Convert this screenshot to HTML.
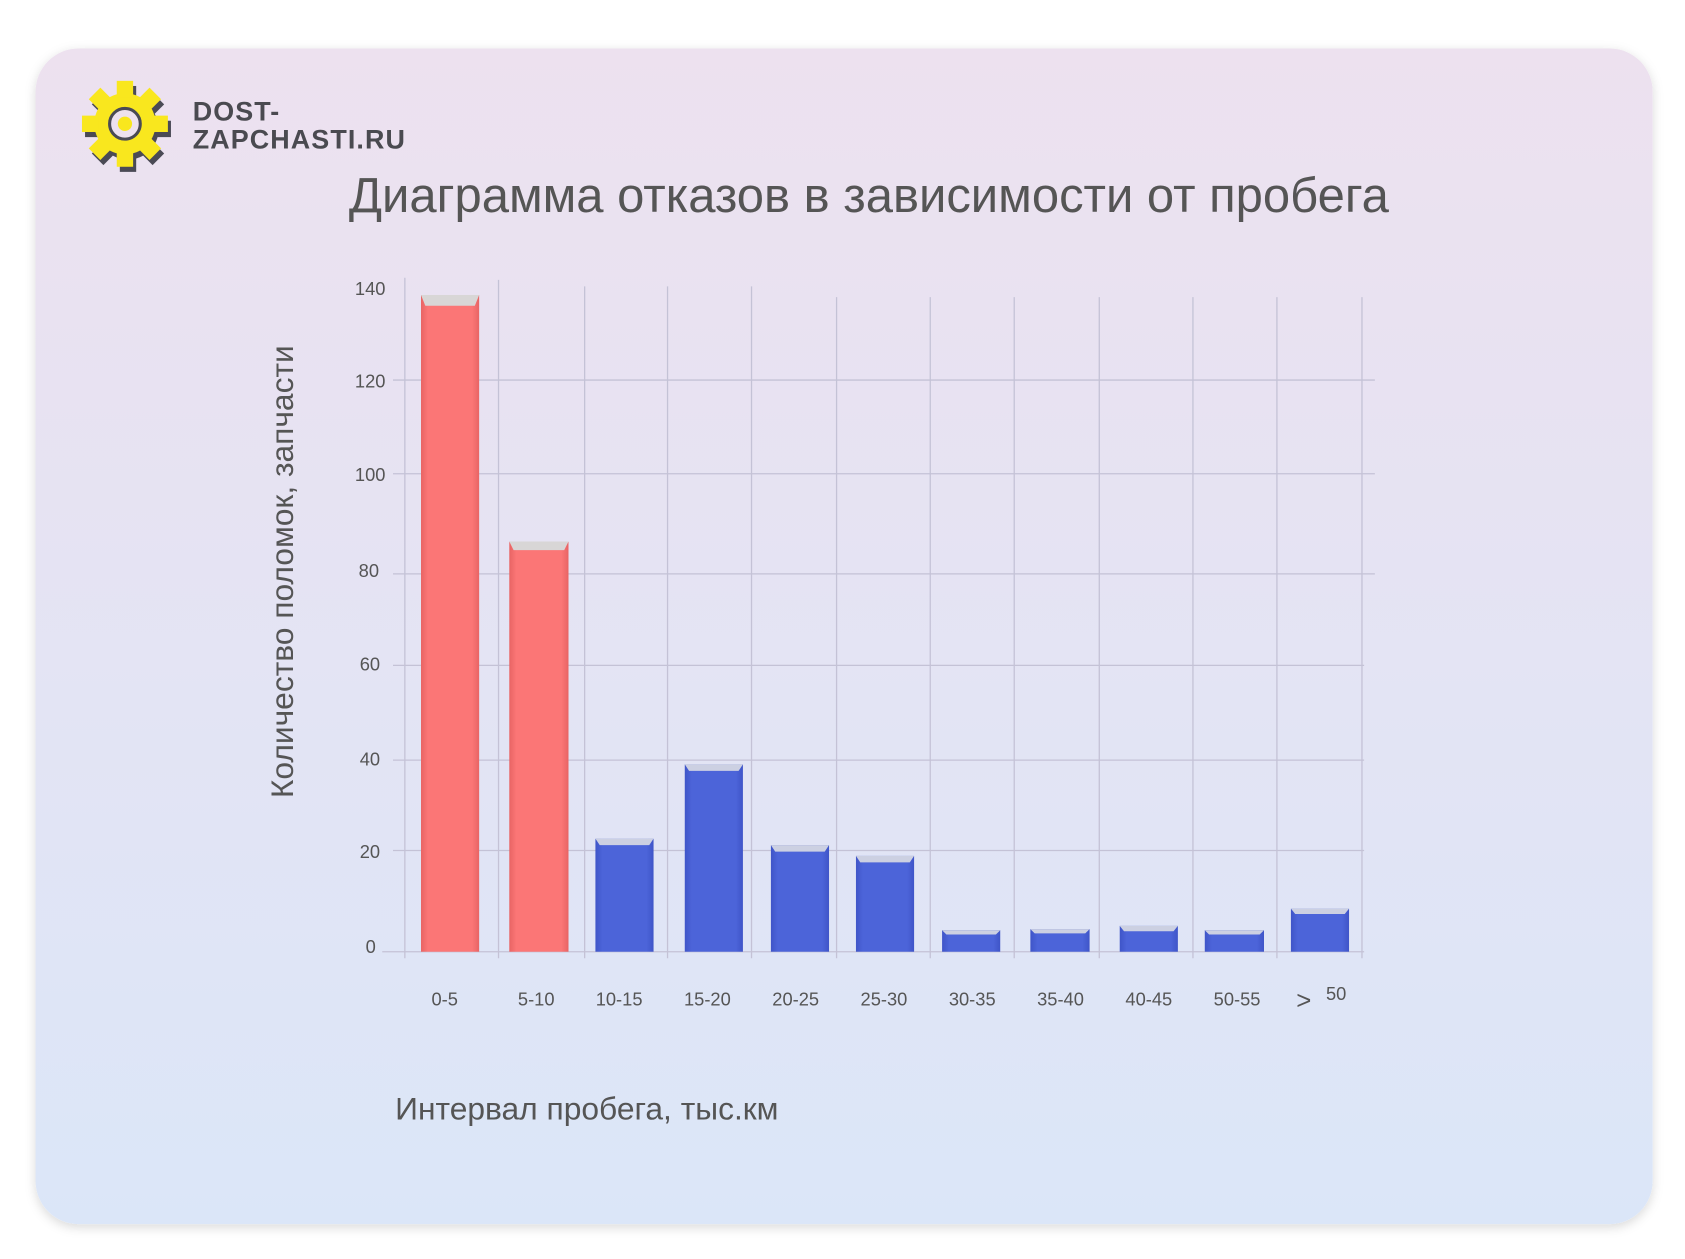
<!DOCTYPE html>
<html><head><meta charset="utf-8"><style>
html,body{margin:0;padding:0;background:#fff;width:1685px;height:1259px;overflow:hidden}
svg{display:block}
text{font-family:"Liberation Sans","DejaVu Sans",sans-serif}
</style></head><body>
<svg width="1685" height="1259" viewBox="0 0 1565 1169.4" xmlns="http://www.w3.org/2000/svg">
<defs>
<linearGradient id="bg" x1="0" y1="0" x2="0" y2="1"><stop offset="0" stop-color="#ede1ef"/><stop offset="1" stop-color="#dbe6f8"/></linearGradient>
<linearGradient id="rg" x1="0" y1="0" x2="1" y2="0"><stop offset="0" stop-color="#e86464"/><stop offset="0.12" stop-color="#fb7676"/><stop offset="0.88" stop-color="#fb7676"/><stop offset="1" stop-color="#e86464"/></linearGradient>
<linearGradient id="bgb" x1="0" y1="0" x2="1" y2="0"><stop offset="0" stop-color="#3f55c8"/><stop offset="0.12" stop-color="#4c64d9"/><stop offset="0.88" stop-color="#4c64d9"/><stop offset="1" stop-color="#3f55c8"/></linearGradient>
<filter id="sh" x="-5%" y="-5%" width="110%" height="110%"><feDropShadow dx="0" dy="3" stdDeviation="5" flood-color="#000" flood-opacity="0.15"/></filter>
</defs>
<rect x="33" y="45" width="1502" height="1092" rx="40" fill="url(#bg)" filter="url(#sh)"/>
<g transform="translate(116,115) scale(0.95)">
<g fill="#4a4a55" transform="translate(3,5)">
<circle r="30"/><rect x="-8" y="-42" width="16" height="16"/>
<rect x="-8" y="-42" width="16" height="16" transform="rotate(45)"/><rect x="-8" y="-42" width="16" height="16" transform="rotate(90)"/><rect x="-8" y="-42" width="16" height="16" transform="rotate(135)"/><rect x="-8" y="-42" width="16" height="16" transform="rotate(180)"/><rect x="-8" y="-42" width="16" height="16" transform="rotate(225)"/><rect x="-8" y="-42" width="16" height="16" transform="rotate(270)"/><rect x="-8" y="-42" width="16" height="16" transform="rotate(315)"/>
</g>
<g fill="#f9e71e">
<circle r="30"/><rect x="-8" y="-42" width="16" height="16"/>
<rect x="-8" y="-42" width="16" height="16" transform="rotate(45)"/><rect x="-8" y="-42" width="16" height="16" transform="rotate(90)"/><rect x="-8" y="-42" width="16" height="16" transform="rotate(135)"/><rect x="-8" y="-42" width="16" height="16" transform="rotate(180)"/><rect x="-8" y="-42" width="16" height="16" transform="rotate(225)"/><rect x="-8" y="-42" width="16" height="16" transform="rotate(270)"/><rect x="-8" y="-42" width="16" height="16" transform="rotate(315)"/>
</g>
<circle r="15" fill="#ede1ef" stroke="#4a4a55" stroke-width="3"/>
<circle r="7" fill="#f9e71e"/>
</g>
<text x="179" y="112" font-size="25" font-weight="bold" fill="#4a4a50" letter-spacing="1">DOST-</text>
<text x="179" y="138" font-size="25" font-weight="bold" fill="#4a4a50" letter-spacing="1">ZAPCHASTI.RU</text>
<text x="807" y="197" font-size="45.5" fill="#555" text-anchor="middle">Диаграмма отказов в зависимости от пробега</text>
<g stroke="#c4c2d6" stroke-width="1.2">
<line x1="365" y1="353" x2="1277" y2="353"/><line x1="365" y1="440" x2="1277" y2="440"/><line x1="365" y1="533" x2="1277" y2="533"/><line x1="365" y1="618" x2="1267" y2="618"/><line x1="365" y1="706" x2="1267" y2="706"/><line x1="365" y1="790" x2="1267" y2="790"/><line x1="355" y1="884" x2="1267" y2="884"/>
<line x1="376" y1="258" x2="376" y2="890"/><line x1="463" y1="260" x2="463" y2="890"/><line x1="543" y1="266" x2="543" y2="890"/><line x1="620" y1="266" x2="620" y2="890"/><line x1="698" y1="266" x2="698" y2="890"/><line x1="777" y1="276" x2="777" y2="890"/><line x1="864" y1="276" x2="864" y2="890"/><line x1="942" y1="276" x2="942" y2="890"/><line x1="1021" y1="276" x2="1021" y2="890"/><line x1="1108" y1="276" x2="1108" y2="890"/><line x1="1186" y1="276" x2="1186" y2="890"/><line x1="1265" y1="276" x2="1265" y2="890"/>
</g>
<g font-size="17" fill="#555" text-anchor="end">
<text x="358" y="274">140</text><text x="358" y="360">120</text><text x="358" y="447">100</text><text x="352" y="536">80</text><text x="353" y="623">60</text><text x="353" y="711">40</text><text x="353" y="797">20</text><text x="349" y="885">0</text>
</g>
<g>
<rect x="391" y="274" width="54" height="610" fill="url(#rg)"/><polygon points="391,274 445,274 441,284 395,284" fill="#d8d6d6"/>
<rect x="473" y="503" width="55" height="381" fill="url(#rg)"/><polygon points="473,503 528,503 524,511 477,511" fill="#d8d6d6"/>
<rect x="553" y="779" width="54" height="105" fill="url(#bgb)"/><polygon points="553,779 607,779 603,785 557,785" fill="#ccd0e2"/>
<rect x="636" y="710" width="54" height="174" fill="url(#bgb)"/><polygon points="636,710 690,710 686,716 640,716" fill="#ccd0e2"/>
<rect x="716" y="785" width="54" height="99" fill="url(#bgb)"/><polygon points="716,785 770,785 766,791 720,791" fill="#ccd0e2"/>
<rect x="795" y="795" width="54" height="89" fill="url(#bgb)"/><polygon points="795,795 849,795 845,801 799,801" fill="#ccd0e2"/>
<rect x="875" y="864" width="54" height="20" fill="url(#bgb)"/><polygon points="875,864 929,864 925,868 879,868" fill="#ccd0e2"/>
<rect x="957" y="863" width="55" height="21" fill="url(#bgb)"/><polygon points="957,863 1012,863 1008,867 961,867" fill="#ccd0e2"/>
<rect x="1040" y="860" width="54" height="24" fill="url(#bgb)"/><polygon points="1040,860 1094,860 1090,865 1044,865" fill="#ccd0e2"/>
<rect x="1119" y="864" width="55" height="20" fill="url(#bgb)"/><polygon points="1119,864 1174,864 1170,868 1123,868" fill="#ccd0e2"/>
<rect x="1199" y="844" width="54" height="40" fill="url(#bgb)"/><polygon points="1199,844 1253,844 1249,849 1203,849" fill="#ccd0e2"/>
</g>
<g font-size="17" fill="#555" text-anchor="middle">
<text x="413" y="934">0-5</text><text x="498" y="934">5-10</text><text x="575" y="934">10-15</text><text x="657" y="934">15-20</text><text x="739" y="934">20-25</text><text x="821" y="934">25-30</text><text x="903" y="934">30-35</text><text x="985" y="934">35-40</text><text x="1067" y="934">40-45</text><text x="1149" y="934">50-55</text>
<text x="1211" y="937" font-size="24">&gt;</text><text x="1241" y="929">50</text>
</g>
<text transform="translate(272,531) rotate(-90)" font-size="29.5" fill="#555" text-anchor="middle">Количество поломок, запчасти</text>
<text x="367" y="1040" font-size="29.5" fill="#555">Интервал пробега, тыс.км</text>
</svg>
</body></html>
